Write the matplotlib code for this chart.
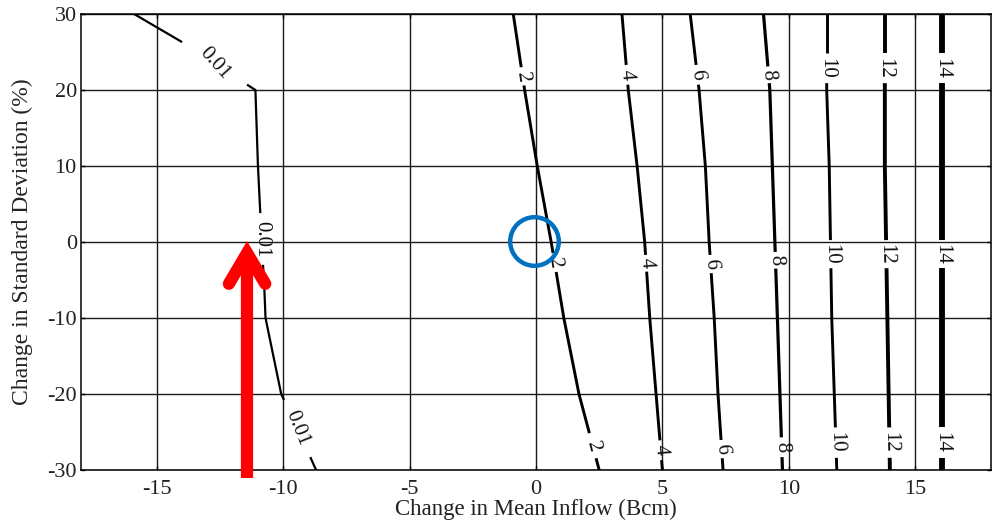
import numpy as np
import matplotlib
matplotlib.use("Agg")
import matplotlib.pyplot as plt

plt.rcParams["font.family"] = ["Liberation Serif", "DejaVu Serif"]
plt.rcParams["axes.unicode_minus"] = False

# y positions (% change in std. dev.) where each contour's x was read
sd_change = [30, 20, 10, 0, -10, -20, -30]

# contour x positions (change in mean inflow, Bcm) at each sd_change value
levels = ["2", "4", "6", "8", "10", "12", "14"]
inflow_2 = [-0.9, -0.45, 0.05, 0.6, 1.1, 1.7, 2.5]
inflow_4 = [3.4, 3.65, 4.0, 4.3, 4.5, 4.75, 5.0]
inflow_6 = [6.1, 6.45, 6.7, 6.85, 7.05, 7.2, 7.4]
inflow_8 = [9.0, 9.25, 9.35, 9.45, 9.55, 9.65, 9.75]
inflow_10 = [11.5, 11.5, 11.6, 11.65, 11.7, 11.8, 11.9]
inflow_12 = [13.8, 13.8, 13.8, 13.85, 13.9, 13.95, 14.0]
inflow_14 = [16.05, 16.05, 16.05, 16.05, 16.05, 16.05, 16.05]

# the 0.01 contour bends near the top, so it keeps its own points
inflow_001 = [-15.9, -14.0, -11.43, -11.1, -11.0, -10.85, -10.75, -10.7, -10.08, -8.93, -8.7]
sd_001 = [30, 26.3, 20.7, 20.0, 10, 0, -5.9, -10, -20, -28.3, -30]

fig = plt.figure(figsize=(10.02, 5.22), dpi=100)
ax = fig.add_axes([81 / 1002, 52 / 522, 910 / 1002, 456 / 522])
ax.set_xlim(-18, 18)
ax.set_ylim(-30, 30)
ax.set_xticks([-15, -10, -5, 0, 5, 10, 15])
ax.set_yticks([-30, -20, -10, 0, 10, 20, 30])
ax.grid(True, color="#1a1a1a", lw=1.0)
ax.set_axisbelow(True)
for s in ax.spines.values():
    s.set_linewidth(1.1)
ax.tick_params(direction="in", length=3, width=1, top=True, right=True,
               labelsize=16, labelcolor="#222222")
ax.tick_params(axis="x", pad=7)
ax.tick_params(axis="y", pad=3)

ax.set_xlabel("Change in Mean Inflow (Bcm)", fontsize=16.5, color="#222222")
ax.set_ylabel("Change in Standard Deviation (%)", fontsize=17, color="#222222")
ax.xaxis.set_label_coords(0.5, -0.064)
ax.yaxis.set_label_coords(-0.053, 0.5)


def draw_contour(xs, ys, label, gaps, lw, rotations=None):
    """Draw a contour line broken where its inline labels sit.
    gaps: list of (centre_y, half_height) in data units, top to bottom."""
    xs = np.asarray(xs, float)
    ys = np.asarray(ys, float)
    rx, ry = xs[::-1], ys[::-1]
    bounds = [ys[0]]
    for c, h in gaps:
        bounds += [c + h, c - h]
    bounds.append(ys[-1])
    for hi, lo in zip(bounds[0::2], bounds[1::2]):
        inner = (ys < hi) & (ys > lo)
        py = np.concatenate([[hi], ys[inner], [lo]])
        px = np.interp(py, ry, rx)
        ax.plot(px, py, color="black", lw=lw, solid_capstyle="butt")
    for i, (c, h) in enumerate(gaps):
        lx = np.interp(c, ry, rx)
        if rotations is not None:
            rot = rotations[i]
        else:
            a = ax.transData.transform([np.interp(c + h, ry, rx), c + h])
            b = ax.transData.transform([np.interp(c - h, ry, rx), c - h])
            rot = np.degrees(np.arctan2(b[1] - a[1], b[0] - a[0]))
        ax.text(lx, c, label, rotation=rot, rotation_mode="anchor",
                ha="center", va="center", fontsize=15, color="#111111")


inflows = [inflow_2, inflow_4, inflow_6, inflow_8, inflow_10, inflow_12, inflow_14]
widths = [2.1, 2.1, 2.1, 2.3, 2.1, 2.8, 4.2]
label_gaps = [
    [(21.8, 1.2), (-2.7, 1.25), (-26.8, 1.65)],
    [(22.0, 1.3), (-2.8, 1.1), (-27.4, 1.3)],
    [(22.0, 1.3), (-2.9, 1.2), (-27.25, 1.2)],
    [(22.0, 1.1), (-2.4, 1.1), (-27.0, 1.3)],
    [(22.9, 2.0), (-1.6, 1.85), (-26.4, 2.0)],
    [(22.9, 2.0), (-1.6, 1.85), (-26.4, 2.0)],
    [(22.9, 2.0), (-1.6, 1.85), (-26.4, 2.0)],
]
for xs, lab, g, lw in zip(inflows, levels, label_gaps, widths):
    draw_contour(xs, sd_change, lab, g, lw)

draw_contour(inflow_001, sd_001, "0.01",
             [(23.5, 2.8), (0.4, 3.4), (-24.55, 3.75)], 1.6,
             rotations=[-48, -90, -68])

# baseline marker at the origin
ax.plot(-0.08, 0.13, marker="o", ms=35, mfc="none", mec="#0070C0",
        mew=3.2, clip_on=False, zorder=5)

# red arrow pointing up at the 0.01 contour
arrow_x = -11.43
ax.plot([arrow_x, arrow_x], [-31.05, -1.6], color="red", lw=8.8,
        solid_capstyle="butt", clip_on=False, zorder=6)
ax.plot([arrow_x - 0.72, arrow_x, arrow_x + 0.72], [-5.5, -1.45, -5.5],
        color="red", lw=8.8, solid_capstyle="round", solid_joinstyle="miter",
        clip_on=False, zorder=6)

fig.savefig("out.png", dpi=100)
